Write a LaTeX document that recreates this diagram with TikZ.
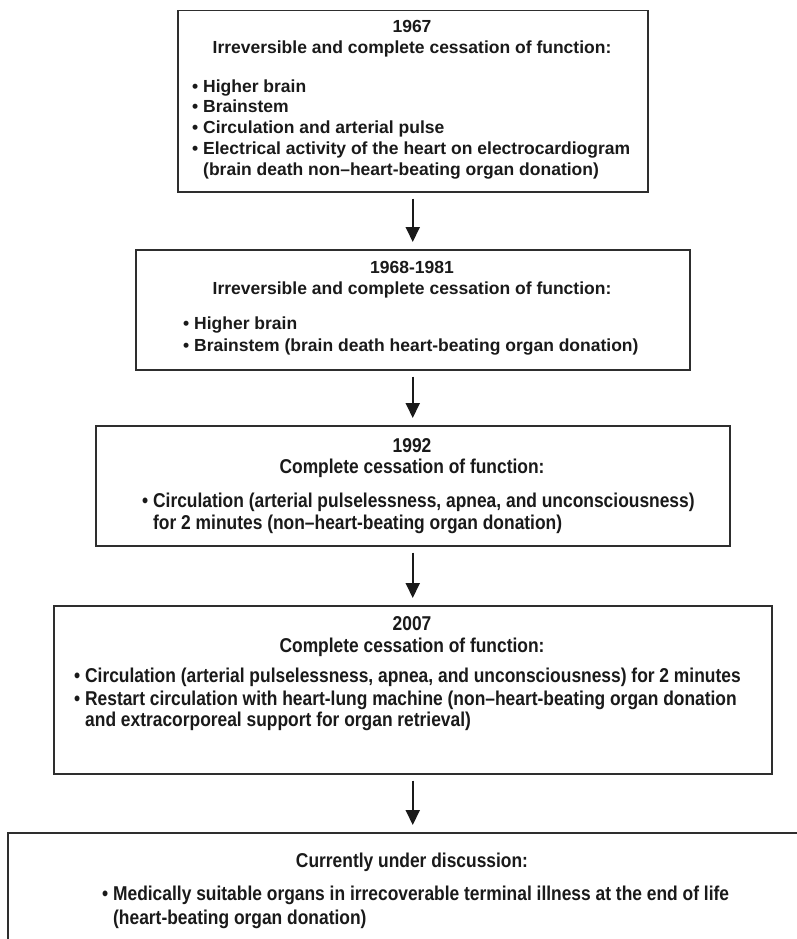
\documentclass[tikz,border=0pt]{standalone}
\usepackage{fontspec}
\setmainfont{Liberation Sans}
\newfontfamily\condfont{Liberation Sans}[FakeStretch=0.87]
\usetikzlibrary{arrows.meta}
\definecolor{ink}{HTML}{1A1A1A}
\definecolor{edge}{HTML}{2E2E2E}
\tikzset{
  box/.style={draw=edge, line width=1.5pt, inner sep=0pt, anchor=north west},
  hd/.style={anchor=base, inner sep=0pt, text=ink, font=\fontsize{17.5}{21}\selectfont\bfseries},
  tx/.style={anchor=base west, inner sep=0pt, text=ink, font=\fontsize{17.5}{21}\selectfont\bfseries},
  hdc/.style={anchor=base, inner sep=0pt, text=ink, font=\condfont\fontsize{20}{22}\selectfont\bfseries},
  txc/.style={anchor=base west, inner sep=0pt, text=ink, font=\condfont\fontsize{20}{22}\selectfont\bfseries},
  arr/.style={draw=ink, line width=1.9pt, -{Triangle[length=15pt,width=14pt]}, shorten <=6pt, shorten >=7pt}
}
\begin{document}
\begin{tikzpicture}[x=1pt,y=-1pt]
\useasboundingbox (0,0) rectangle (797,939);
\clip (0,0) rectangle (797,939);
\fill[white] (0,0) rectangle (797,939);

% Box 1
\node[box, minimum width=470pt, minimum height=181pt] (b1) at (177,10) {};
\node[hd] (y1) at (412,33) {1967};
\node[hd] (h1) at (412,54) {Irreversible and complete cessation of function:};
\node[tx] (a1) at (192,93) {• Higher brain};
\node[tx] (a2) at (192,113) {• Brainstem};
\node[tx] (a3) at (192,134) {• Circulation and arterial pulse};
\node[tx] (a4) at (192,154) {• Electrical activity of the heart on electrocardiogram};
\node[tx] (a5) at (203,175) {(brain death non–heart-beating organ donation)};

% Box 2
\node[box, minimum width=554pt, minimum height=120pt] (b2) at (135,249) {};
\node[hd] (y2) at (412,273) {1968-1981};
\node[hd] (h2) at (412,294) {Irreversible and complete cessation of function:};
\node[tx] (c1) at (183,329) {• Higher brain};
\node[tx] (c2) at (183,351) {• Brainstem (brain death heart-beating organ donation)};

% Box 3
\node[box, minimum width=634pt, minimum height=120pt] (b3) at (95,425) {};
\node[hdc] (y3) at (412,452) {1992};
\node[hdc] (h3) at (412,473) {Complete cessation of function:};
\node[txc] (d1) at (142,507) {• Circulation (arterial pulselessness, apnea, and unconsciousness)};
\node[txc] (d2) at (153,529) {for 2 minutes (non–heart-beating organ donation)};

% Box 4
\node[box, minimum width=718pt, minimum height=168pt] (b4) at (53,605) {};
\node[hdc] (y4) at (412,630) {2007};
\node[hdc] (h4) at (412,652) {Complete cessation of function:};
\node[txc] (e1) at (74,682) {• Circulation (arterial pulselessness, apnea, and unconsciousness) for 2 minutes};
\node[txc] (e2) at (74,705) {• Restart circulation with heart-lung machine (non–heart-beating organ donation};
\node[txc] (e3) at (85,726) {and extracorporeal support for organ retrieval)};

% Box 5 (cut off at right and bottom)
\node[box, minimum width=830pt, minimum height=160pt] (b5) at (7,832) {};
\node[hdc] (h5) at (412,867) {Currently under discussion:};
\node[txc] (f1) at (102,900) {• Medically suitable organs in irrecoverable terminal illness at the end of life};
\node[txc] (f2) at (113,924) {(heart-beating organ donation)};

% Arrows
\draw[arr] (b1.south) -- (b2.north);
\draw[arr] (b2.south) -- (b3.north);
\draw[arr] (b3.south) -- (b4.north);
\draw[arr] (b4.south) -- (b4.south |- b5.north);
\end{tikzpicture}
\end{document}
